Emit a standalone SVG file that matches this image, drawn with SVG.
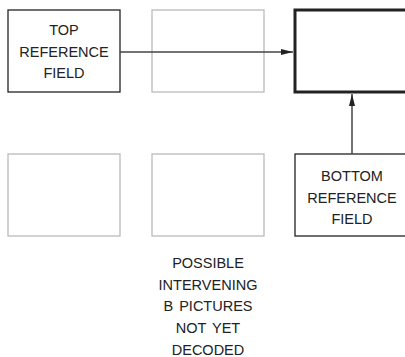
<svg xmlns="http://www.w3.org/2000/svg" width="405" height="357" viewBox="0 0 405 357">
<style>
.box{fill:#fff;stroke:#222;stroke-width:1.3}
.ghost{fill:#fff;stroke:#bbb;stroke-width:1.3}
.cur{fill:#fff;stroke:#222;stroke-width:3}
text{font-family:"Liberation Sans",Arial,sans-serif;font-size:14.5px;fill:#222;text-anchor:middle;word-spacing:2px}
.conn{stroke:#444;stroke-width:1.5;fill:none}
</style>
<defs>
<marker id="ah" markerWidth="12" markerHeight="6" refX="12" refY="3" orient="auto" markerUnits="userSpaceOnUse">
<path d="M0,0 L12,3 L0,6 Z" fill="#222"/>
</marker>
</defs>
<rect width="405" height="357" fill="#fff"/>
<g id="top-ref">
<rect class="box" x="8" y="10" width="112" height="82"/>
<text x="64" y="35">TOP</text>
<text x="64" y="57">REFERENCE</text>
<text x="64" y="78">FIELD</text>
</g>
<g id="top-b">
<rect class="ghost" x="152" y="10" width="112" height="82"/>
</g>
<g id="current">
<rect class="cur" x="295" y="10" width="120" height="82"/>
</g>
<g id="bottom-b1">
<rect class="ghost" x="8" y="154" width="112" height="82"/>
</g>
<g id="bottom-b2">
<rect class="ghost" x="152" y="154" width="112" height="82"/>
</g>
<g id="bottom-ref">
<rect class="box" x="295" y="154" width="120" height="82"/>
<text x="352" y="181">BOTTOM</text>
<text x="352" y="203">REFERENCE</text>
<text x="352" y="224">FIELD</text>
</g>
<g id="caption">
<text x="208" y="268">POSSIBLE</text>
<text x="208" y="290">INTERVENING</text>
<text x="208" y="311">B PICTURES</text>
<text x="208" y="333">NOT YET</text>
<text x="208" y="355">DECODED</text>
</g>
<g id="connectors">
<line class="conn" x1="120" y1="52" x2="293" y2="52" marker-end="url(#ah)"/>
<line class="conn" x1="352" y1="154" x2="352" y2="94" marker-end="url(#ah)"/>
</g>
</svg>
